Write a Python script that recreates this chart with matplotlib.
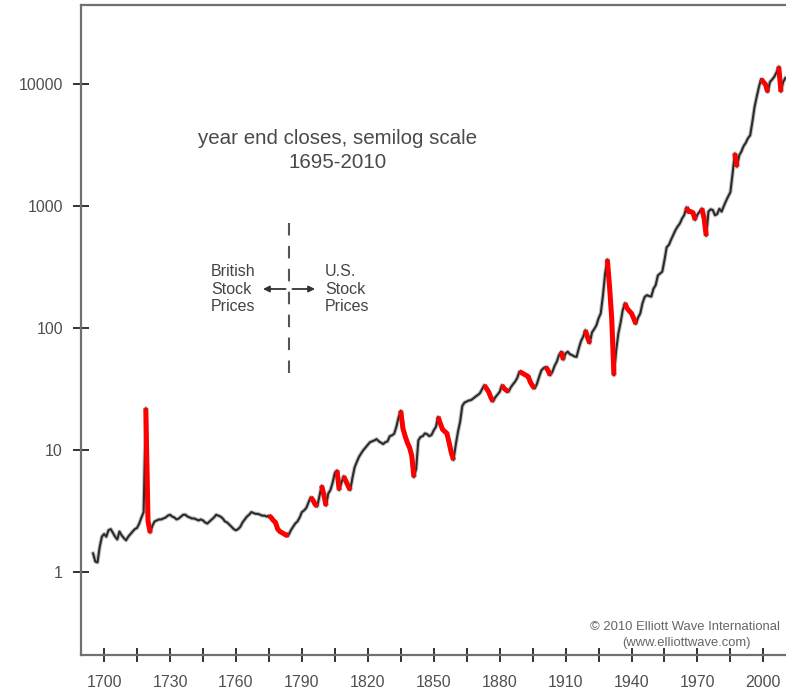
import matplotlib.pyplot as plt
import numpy as np
from matplotlib.ticker import FixedLocator, FuncFormatter, NullLocator

plt.rcParams['font.family'] = ['Liberation Sans', 'DejaVu Sans']

# year-end closes, British series to 1784 then U.S. series
years = list(range(1695, 2011))
closes = [
    1.42, 1.22, 1.20, 1.60, 1.95,                                   # 1695-1699
    2.05, 1.95, 2.20, 2.25, 2.10, 1.95, 1.85, 2.15, 2.00, 1.90,     # 1700s
    1.82, 1.95, 2.05, 2.15, 2.25, 2.30, 2.50, 2.80, 3.10, 22.0,     # 1710s
    2.60, 2.10, 2.40, 2.60, 2.65, 2.70, 2.70, 2.75, 2.80, 2.90,     # 1720s
    2.95, 2.85, 2.80, 2.70, 2.75, 2.85, 2.95, 2.95, 2.85, 2.80,     # 1730s
    2.75, 2.75, 2.70, 2.65, 2.70, 2.65, 2.55, 2.50, 2.60, 2.70,     # 1740s
    2.80, 2.95, 2.90, 2.85, 2.75, 2.60, 2.55, 2.45, 2.35, 2.25,     # 1750s
    2.20, 2.25, 2.35, 2.55, 2.70, 2.85, 2.95, 3.10, 3.05, 3.00,     # 1760s
    3.00, 2.95, 2.90, 2.90, 2.85, 2.90, 2.80, 2.65, 2.55, 2.25,     # 1770s
    2.15, 2.10, 2.05, 2.00, 2.02, 2.20, 2.35, 2.50, 2.60, 2.80,     # 1780s
    3.10, 3.20, 3.35, 3.70, 4.10, 3.90, 3.60, 3.45, 4.20, 5.10,     # 1790s
    4.30, 3.50, 4.40, 4.70, 5.40, 6.50, 6.80, 4.70, 5.40, 6.10,     # 1800s
    5.60, 5.10, 4.70, 5.90, 7.20, 8.00, 8.80, 9.40, 10.0, 10.5,     # 1810s
    11.0, 11.6, 11.8, 12.0, 12.3, 11.8, 11.5, 11.2, 11.6, 11.8,     # 1820s
    13.0, 13.2, 13.6, 15.5, 18.5, 21.0, 15.0, 13.0, 11.5, 10.5,     # 1830s
    9.0, 6.0, 7.0, 12.0, 12.8, 13.0, 13.7, 13.5, 13.0, 13.3,        # 1840s
    14.5, 15.5, 18.7, 16.5, 14.8, 14.2, 13.7, 11.5, 9.5, 8.3,       # 1850s
    11.0, 14.0, 17.0, 23.0, 24.5, 25.0, 25.5, 25.7, 26.5, 27.4,     # 1860s
    28.2, 29.2, 31.5, 34.0, 32.0, 30.0, 27.0, 25.0, 27.0, 28.5,     # 1870s
    30.0, 34.0, 32.0, 31.0, 30.0, 32.5, 34.5, 36.3, 39.0, 44.0,     # 1880s
    43.0, 42.0, 41.0, 40.0, 36.0, 33.5, 32.0, 35.0, 40.0, 45.0,     # 1890s
    47.0, 48.0, 45.0, 41.0, 43.8, 49.0, 53.0, 60.0, 64.0, 55.0,     # 1900s
    62.0, 64.0, 61.0, 60.0, 58.5, 58.0, 68.0, 78.0, 85.0, 96.0,     # 1910s
    84.0, 75.0, 92.0, 98.0, 105, 120, 132, 185, 280, 365,           # 1920s
    220, 120, 41, 65, 90, 110, 140, 160, 145, 138,                  # 1930s
    132, 120, 108, 122, 132, 160, 180, 186, 183, 181,               # 1940s
    210, 225, 270, 280, 290, 360, 460, 480, 530, 580,               # 1950s
    635, 680, 720, 790, 845, 976, 900, 900, 880, 770,               # 1960s
    850, 900, 955, 800, 570, 900, 940, 927, 840, 860,               # 1970s
    950, 900, 1000, 1100, 1200, 1300, 1850, 2700, 2100, 2600,       # 1980s
    2800, 3100, 3300, 3600, 3800, 4900, 6500, 7900, 9500, 11000,    # 1990s
    10400, 9900, 8600, 10400, 10900, 11500, 12500, 13900, 8650, 10400,  # 2000s
    11200,                                                          # 2010
]

# declines drawn in red (first and last year of each)
crashes = [(1719, 1721), (1775, 1784), (1794, 1797), (1799, 1801),
           (1806, 1807), (1809, 1812), (1835, 1841), (1852, 1859),
           (1873, 1877), (1881, 1884), (1889, 1896), (1901, 1903),
           (1908, 1909), (1919, 1921), (1929, 1932), (1937, 1942),
           (1965, 1969), (1972, 1974), (1987, 1988), (1999, 2002),
           (2007, 2008)]

split_year = 1784
ytick_vals = [1, 10, 100, 1000, 10000]
xtick_years = list(range(1700, 2011, 15))
xlabel_years = list(range(1700, 2001, 30))

fig = plt.figure(figsize=(7.86, 6.95), dpi=100)
ax = fig.add_axes([0.10305, 0.05755, 0.89695, 0.93525])
ax.set_yscale('log')
ax.set_xlim(1689.5, 2010.3)
ax.set_ylim(0.209, 44460)

yr = np.array(years)
cl = np.array(closes)
ax.plot(yr, cl, color='#c4c4c4', lw=3.0, solid_joinstyle='round', zorder=2)
ax.plot(yr, cl, color='#2b2b2b', lw=1.5, solid_joinstyle='round', zorder=3)
for a, b in crashes:
    m = (yr >= a) & (yr <= b)
    ax.plot(yr[m], cl[m], color='#ff0000', lw=3.6, solid_capstyle='butt',
            solid_joinstyle='round', zorder=4)

# axes frame
for side in ['left', 'top', 'bottom']:
    ax.spines[side].set_color('#707070')
    ax.spines[side].set_linewidth(1.6)
ax.spines['right'].set_visible(False)

ax.yaxis.set_major_locator(FixedLocator(ytick_vals))
ax.yaxis.set_minor_locator(NullLocator())
ax.yaxis.set_major_formatter(FuncFormatter(lambda v, p: '%d' % v))
ax.xaxis.set_major_locator(FixedLocator(xtick_years))
ax.xaxis.set_major_formatter(
    FuncFormatter(lambda v, p: '%d' % v if int(round(v)) in xlabel_years else ''))
ax.tick_params(axis='y', direction='inout', length=11, width=1.4,
               color='#333333', labelsize=11.5, labelcolor='#505050', pad=7.5)
ax.tick_params(axis='x', direction='inout', length=9.5, width=1.4,
               color='#333333', labelsize=11.5, labelcolor='#505050', pad=10)

# headings
ax.text(0.364, 0.795, 'year end closes, semilog scale', transform=ax.transAxes,
        ha='center', va='center', fontsize=14.8, color='#4a4a4a')
ax.text(0.364, 0.758, '1695-2010', transform=ax.transAxes,
        ha='center', va='center', fontsize=14.8, color='#4a4a4a')

# British / U.S. divider
ax.plot([split_year, split_year], [42.8, 740], color='#555555', lw=1.5,
        linestyle=(0, (6, 5)), zorder=2)
ax.annotate('', xy=(1772.3, 209), xytext=(1782.6, 209),
            arrowprops=dict(arrowstyle='-|>', color='#333333', lw=1.3,
                            mutation_scale=9, shrinkA=0, shrinkB=0))
ax.annotate('', xy=(1796.0, 209), xytext=(1785.7, 209),
            arrowprops=dict(arrowstyle='-|>', color='#333333', lw=1.3,
                            mutation_scale=9, shrinkA=0, shrinkB=0))
ax.text(1748.7, 209, 'British\nStock\nPrices', ha='left', va='center',
        multialignment='left', fontsize=11.5, color='#444444', linespacing=1.2)
ax.text(1800.5, 209, 'U.S.\nStock\nPrices', ha='left', va='center',
        multialignment='left', fontsize=11.5, color='#444444', linespacing=1.2)

ax.text(0.857, 0.043, '\u00a9 2010 Elliott Wave International',
        transform=ax.transAxes, ha='center', va='center', fontsize=9.4,
        color='#666666')
ax.text(0.859, 0.018, '(www.elliottwave.com)', transform=ax.transAxes,
        ha='center', va='center', fontsize=9.4, color='#666666')

fig.savefig('out.png', dpi=100)
